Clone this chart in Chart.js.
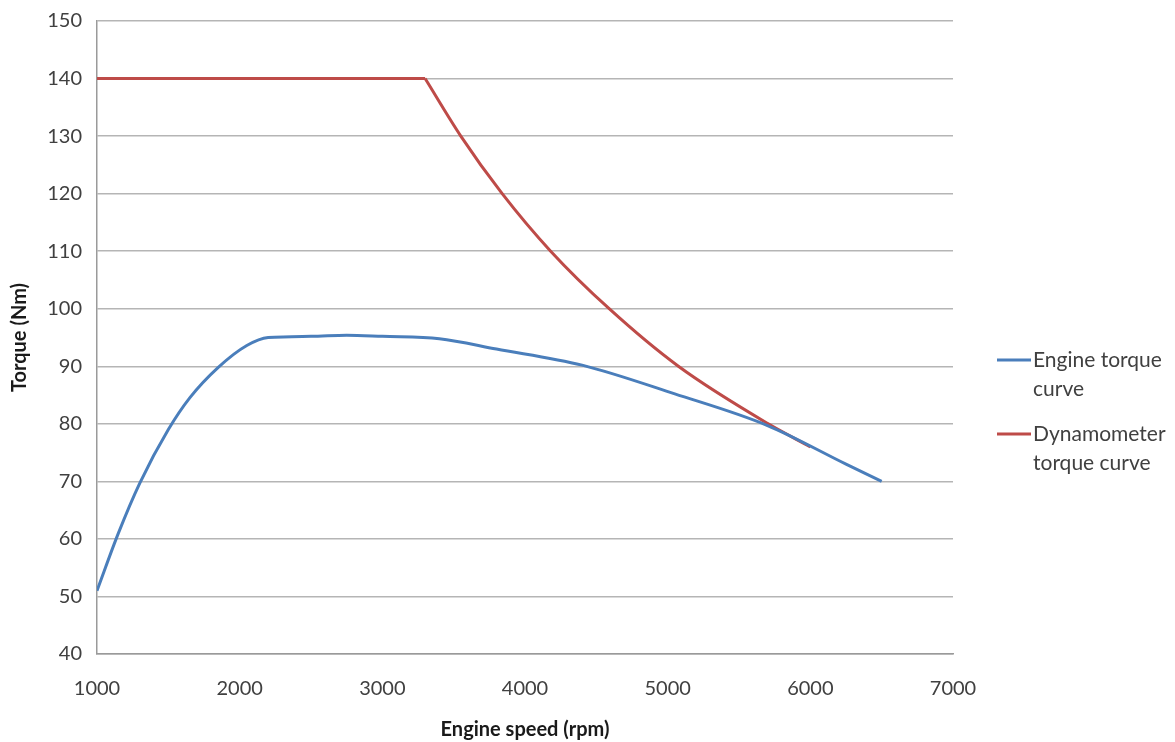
<!DOCTYPE html>
<html>
<head>
<meta charset="utf-8">
<script src="https://cdn.jsdelivr.net/npm/chart.js@4.4.1/dist/chart.umd.min.js"></script>
<style>
  body { margin: 0; background: #fff; }
  #wrap { width: 1175px; height: 742px; }
</style>
</head>
<body>
<div id="wrap"><canvas id="grafico"></canvas></div>
<script>
// Valores
const rpmMotor = [1000, 1150, 1300, 1500, 1650, 1850, 2050, 2200, 2500, 2750, 3000, 3400, 3800, 4400, 5050, 5700, 6250, 6500];
const torqueMotor = [51, 61, 69.7, 79, 84.5, 89.8, 93.6, 95, 95.2, 95.4, 95.2, 94.8, 93, 90.2, 85.2, 79.7, 73, 70];

// Dinamômetro: trecho plano + trecho de potência constante
const rpmDinoPlano = [1000, 3300];
const torqueDinoPlano = [140, 140];
const rpmDinoCurva = [3300, 3550, 3840, 4180, 4590, 5075, 5705, 6000];
const torqueDinoCurva = [140, 130, 120, 110, 100, 90, 80, 76];

const ticksY = { min: 40, max: 150, passo: 10 };
const ticksX = { min: 1000, max: 7000, passo: 1000 };

const rotulosLegenda = [
  { linhas: ["Engine torque", "curve"], cor: "#4a7ebb" },
  { linhas: ["Dynamometer", "torque curve"], cor: "#be4b48" },
];

const FONTE = "Lato, 'Open Sans', sans-serif";

const pontos = (xs, ys) => xs.map((x, i) => ({ x, y: ys[i] }));

// Legenda à direita com texto em duas linhas
const legendaLateral = {
  id: "legendaLateral",
  afterDraw(chart) {
    const ctx = chart.ctx;
    const x0 = chart.chartArea.right + 44;
    const posY = [360, 434];
    ctx.save();
    ctx.font = "21px " + FONTE;
    ctx.textBaseline = "middle";
    ctx.fillStyle = "#404040";
    rotulosLegenda.forEach((item, i) => {
      ctx.strokeStyle = item.cor;
      ctx.lineWidth = 3;
      ctx.beginPath();
      ctx.moveTo(x0, posY[i]);
      ctx.lineTo(x0 + 34, posY[i]);
      ctx.stroke();
      item.linhas.forEach((txt, j) => {
        ctx.fillText(txt, x0 + 36, posY[i] + j * 29);
      });
    });
    ctx.restore();
  },
};

new Chart(document.getElementById("grafico"), {
  type: "line",
  data: {
    datasets: [
      {
        label: "Engine torque curve",
        data: pontos(rpmMotor, torqueMotor),
        borderColor: "#4a7ebb",
        borderWidth: 3,
        pointRadius: 0,
        cubicInterpolationMode: "monotone",
      },
      {
        label: "Dynamometer torque curve",
        data: pontos(rpmDinoPlano, torqueDinoPlano),
        borderColor: "#be4b48",
        borderWidth: 3,
        pointRadius: 0,
      },
      {
        label: "Dynamometer torque curve (queda)",
        data: pontos(rpmDinoCurva, torqueDinoCurva),
        borderColor: "#be4b48",
        borderWidth: 3,
        pointRadius: 0,
        cubicInterpolationMode: "monotone",
      },
    ],
  },
  options: {
    responsive: true,
    maintainAspectRatio: false,
    animation: false,
    layout: { padding: { top: 21, right: 222, left: 0, bottom: 0 } },
    plugins: {
      legend: { display: false },
      tooltip: { enabled: false },
    },
    scales: {
      x: {
        type: "linear",
        min: ticksX.min,
        max: ticksX.max,
        ticks: {
          stepSize: ticksX.passo,
          callback: (v) => String(v),
          color: "#404040",
          font: { family: FONTE, size: 20 },
          padding: 23,
          maxRotation: 0,
        },
        grid: { display: false, drawTicks: false },
        border: { color: "#9a9a9a", width: 1.5 },
        title: {
          display: true,
          text: "Engine speed (rpm)",
          color: "#1a1a1a",
          font: { family: FONTE, size: 20, weight: "bold" },
          padding: { top: 0, bottom: 0 },
        },
        afterFit: (s) => { s.height = 88; },
      },
      y: {
        min: ticksY.min,
        max: ticksY.max,
        ticks: {
          stepSize: ticksY.passo,
          color: "#404040",
          font: { family: FONTE, size: 20 },
          padding: 15,
        },
        grid: { color: "#b5b5b5", lineWidth: 1.5, drawTicks: false },
        border: { color: "#9a9a9a", width: 1.5 },
        title: {
          display: true,
          text: "Torque (Nm)",
          color: "#1a1a1a",
          font: { family: FONTE, size: 20, weight: "bold" },
          padding: { top: 8, bottom: 0 },
        },
        afterFit: (s) => { s.width = 97; s.paddingTop = 0; s.paddingBottom = 0; },
      },
    },
  },
  plugins: [legendaLateral],
});
</script>
</body>
</html>
